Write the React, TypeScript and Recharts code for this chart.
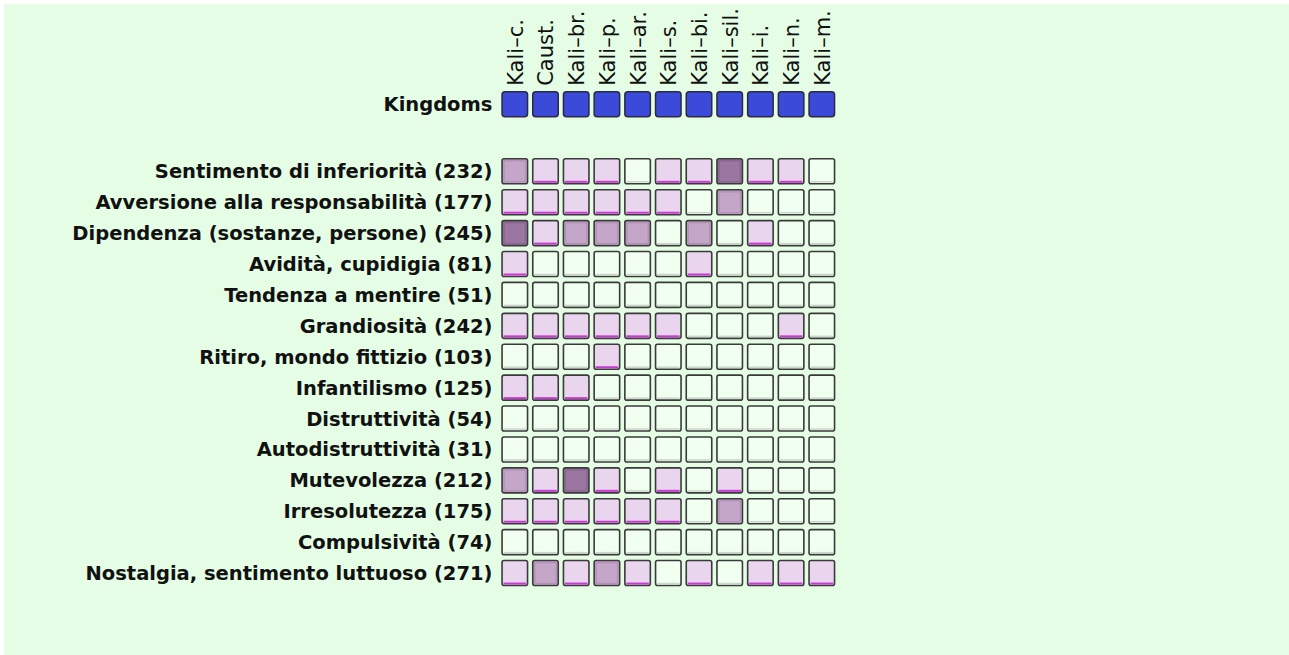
import React from "react";
import { ScatterChart, Scatter, XAxis, YAxis } from "recharts";

const columns = ["Kali–c.", "Caust.", "Kali–br.", "Kali–p.", "Kali–ar.", "Kali–s.", "Kali–bi.", "Kali–sil.", "Kali–i.", "Kali–n.", "Kali–m."];
const headerLabel = "Kingdoms";
const rowLabels = [
  "Sentimento di inferiorità (232)",
  "Avversione alla responsabilità (177)",
  "Dipendenza (sostanze, persone) (245)",
  "Avidità, cupidigia (81)",
  "Tendenza a mentire (51)",
  "Grandiosità (242)",
  "Ritiro, mondo fittizio (103)",
  "Infantilismo (125)",
  "Distruttività (54)",
  "Autodistruttività (31)",
  "Mutevolezza (212)",
  "Irresolutezza (175)",
  "Compulsività (74)",
  "Nostalgia, sentimento luttuoso (271)",
];
// intensity level per row (0 = none, 1 = light, 2 = medium, 3 = strong)
const cellLevels = [
  [2, 1, 1, 1, 0, 1, 1, 3, 1, 1, 0],
  [1, 1, 1, 1, 1, 1, 0, 2, 0, 0, 0],
  [3, 1, 2, 2, 2, 0, 2, 0, 1, 0, 0],
  [1, 0, 0, 0, 0, 0, 1, 0, 0, 0, 0],
  [0, 0, 0, 0, 0, 0, 0, 0, 0, 0, 0],
  [1, 1, 1, 1, 1, 1, 0, 0, 0, 1, 0],
  [0, 0, 0, 1, 0, 0, 0, 0, 0, 0, 0],
  [1, 1, 1, 0, 0, 0, 0, 0, 0, 0, 0],
  [0, 0, 0, 0, 0, 0, 0, 0, 0, 0, 0],
  [0, 0, 0, 0, 0, 0, 0, 0, 0, 0, 0],
  [2, 1, 3, 1, 0, 1, 0, 1, 0, 0, 0],
  [1, 1, 1, 1, 1, 1, 0, 2, 0, 0, 0],
  [0, 0, 0, 0, 0, 0, 0, 0, 0, 0, 0],
  [1, 2, 1, 2, 1, 0, 1, 0, 1, 1, 1],
];

const HEADER_POS = -2.17;
const levelFill = ["#f0fff0", "#ead5ee", "#c4a6c9", "#9a76a0"];
const BG = "#e4fde4";
const CELL_W = 25.5;
const CELL_H = 25;

const gridData = cellLevels.flatMap((row, r) =>
  row.map((lv, c) => ({ x: c, y: r, level: lv }))
);
const headerData = columns.map((_, c) => ({ x: c, y: HEADER_POS, level: -1 }));

const renderCell = (props: any) => {
  const { cx, cy, payload } = props;
  const x0 = cx - CELL_W / 2;
  const y0 = cy - CELL_H / 2;
  const lv = payload.level;
  if (lv === -1) {
    return (
      <rect x={x0} y={y0} width={CELL_W} height={CELL_H} rx={3} ry={3}
        fill="#3b4ad9" stroke="#2a2a40" strokeWidth={1.5} />
    );
  }
  return (
    <g>
      <rect x={x0} y={y0} width={CELL_W} height={CELL_H} rx={2} ry={2}
        fill={levelFill[lv]} stroke="#3a3a3a" strokeWidth={1.6} />
      {lv === 0 && (
        <line x1={x0 + 1.5} x2={x0 + CELL_W - 1.5} y1={y0 + CELL_H - 2} y2={y0 + CELL_H - 2}
          stroke="#c9d6c9" strokeWidth={1.5} />
      )}
      {lv === 1 && (
        <line x1={x0 + 1.5} x2={x0 + CELL_W - 1.5} y1={y0 + CELL_H - 2} y2={y0 + CELL_H - 2}
          stroke="#c63ad0" strokeWidth={2} />
      )}
      {lv >= 2 && (
        <rect x={x0 + 2} y={y0 + 2} width={CELL_W - 4} height={CELL_H - 4}
          fill="none" stroke={lv === 3 ? "#8a6690" : "#b394b8"} strokeWidth={1.5} />
      )}
    </g>
  );
};

const XTick = (props: any) => {
  const { x, y, payload } = props;
  return (
    <text x={x + 8} y={y} transform={`rotate(-90, ${x + 8}, ${y})`} textAnchor="start"
      fontFamily="DejaVu Sans" fontSize={21} fill="#111">
      {columns[payload.value]}
    </text>
  );
};

const YTick = (props: any) => {
  const { x, y, payload } = props;
  const label = payload.value === HEADER_POS ? headerLabel : rowLabels[payload.value];
  return (
    <text x={x} y={y} dy={7} textAnchor="end" fontFamily="DejaVu Sans" fontWeight="bold"
      fontSize={19.5} fill="#111">
      {label}
    </text>
  );
};

export default function App() {
  return (
    <div style={{ position: "absolute", left: 4, top: 4, width: 1285, height: 651, background: BG }}>
      <ScatterChart width={1285} height={651} margin={{ top: 0, right: 451.85, bottom: 66.5, left: 0 }}>
        <XAxis type="number" dataKey="x" orientation="top" domain={[-0.5, 10.5]}
          ticks={columns.map((_, i) => i)} interval={0} height={84.8}
          axisLine={false} tickLine={false} tickSize={0} tickMargin={3} tick={XTick} />
        <YAxis type="number" dataKey="y" reversed domain={[-2.67, 13.5]}
          ticks={[HEADER_POS, ...rowLabels.map((_, i) => i)]} interval={0} width={495.45}
          axisLine={false} tickLine={false} tickSize={0} tickMargin={7} tick={YTick} />
        <Scatter data={headerData} shape={renderCell} isAnimationActive={false} />
        <Scatter data={gridData} shape={renderCell} isAnimationActive={false} />
      </ScatterChart>
    </div>
  );
}
